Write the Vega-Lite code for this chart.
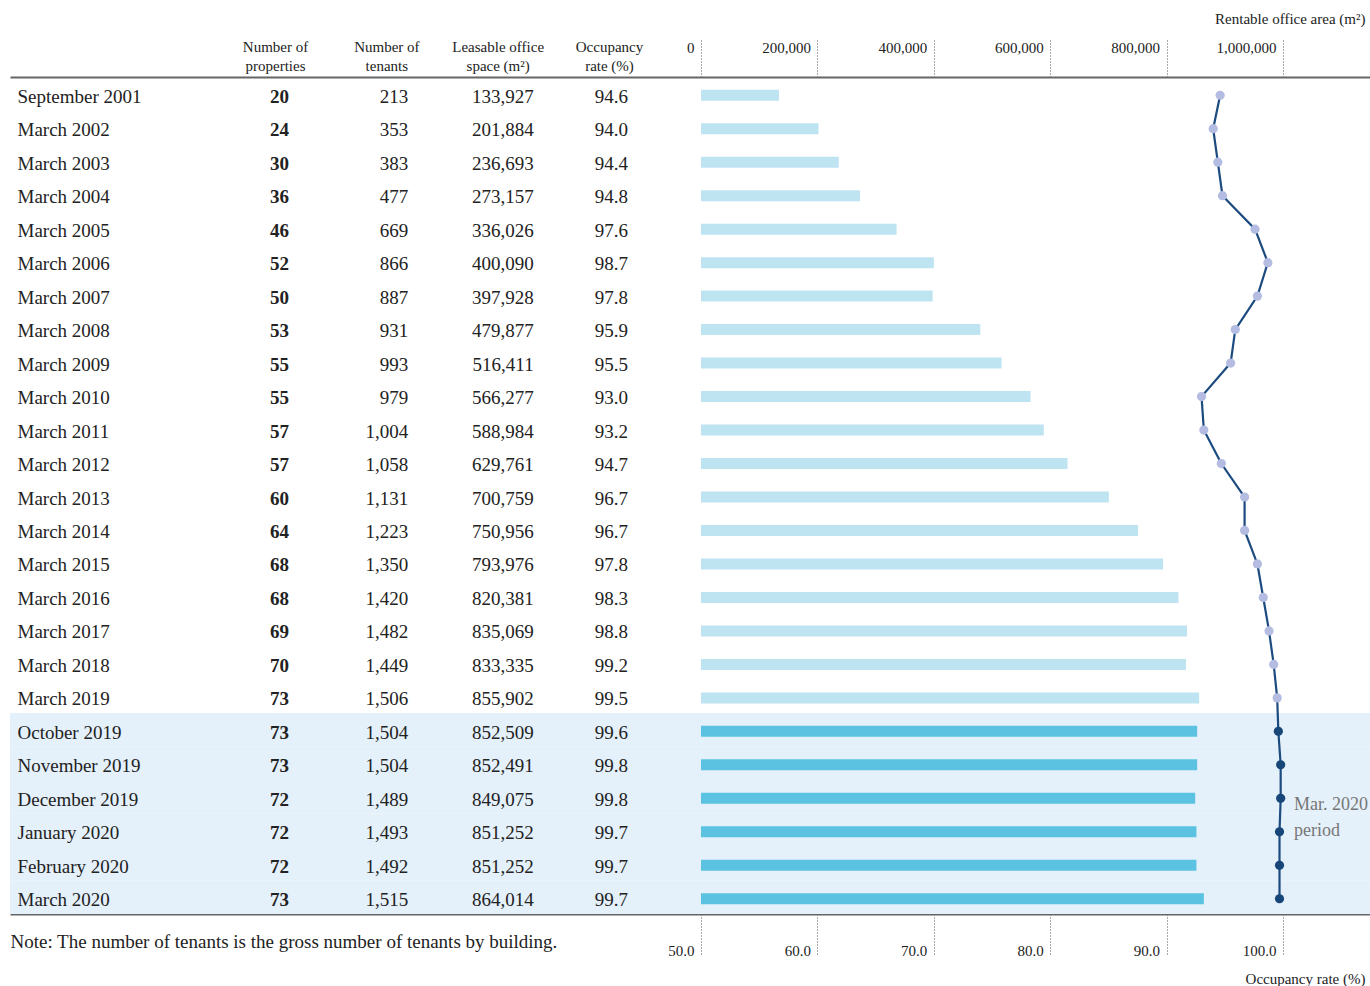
{
  "$schema": "https://vega.github.io/schema/vega-lite/v6.json",
  "autosize": "none",
  "width": 1360,
  "height": 837,
  "padding": {"left": 10, "top": 77, "right": 0, "bottom": 72},
  "background": "white",
  "config": {
    "view": {"stroke": null},
    "font": "Liberation Serif",
    "axis": {"labelFont": "Liberation Serif", "titleFont": "Liberation Serif", "labelColor": "#222", "titleColor": "#222", "grid": false, "titleFontWeight": "normal", "labelFlush": false, "labelOverlap": false, "labelAngle": 0},
    "axisY": {"domain": false, "ticks": false, "tickSize": 0, "labelAlign": "left", "labelPadding": -7, "labelFontSize": 19, "labelBaseline": "middle", "labelOffset": 3, "labelLimit": 400, "titleAngle": 0, "titleAlign": "left", "titleBaseline": "middle", "titleX": 0, "titleY": 864, "titleFontSize": 19, "titleLimit": 1000}
  },
  "data": {
    "values": [
      {"date": "September 2001", "props": 20, "tenants": 213, "space": 133927, "occ": 94.6, "period": "annual"},
      {"date": "March 2002", "props": 24, "tenants": 353, "space": 201884, "occ": 94.0, "period": "annual"},
      {"date": "March 2003", "props": 30, "tenants": 383, "space": 236693, "occ": 94.4, "period": "annual"},
      {"date": "March 2004", "props": 36, "tenants": 477, "space": 273157, "occ": 94.8, "period": "annual"},
      {"date": "March 2005", "props": 46, "tenants": 669, "space": 336026, "occ": 97.6, "period": "annual"},
      {"date": "March 2006", "props": 52, "tenants": 866, "space": 400090, "occ": 98.7, "period": "annual"},
      {"date": "March 2007", "props": 50, "tenants": 887, "space": 397928, "occ": 97.8, "period": "annual"},
      {"date": "March 2008", "props": 53, "tenants": 931, "space": 479877, "occ": 95.9, "period": "annual"},
      {"date": "March 2009", "props": 55, "tenants": 993, "space": 516411, "occ": 95.5, "period": "annual"},
      {"date": "March 2010", "props": 55, "tenants": 979, "space": 566277, "occ": 93.0, "period": "annual"},
      {"date": "March 2011", "props": 57, "tenants": 1004, "space": 588984, "occ": 93.2, "period": "annual"},
      {"date": "March 2012", "props": 57, "tenants": 1058, "space": 629761, "occ": 94.7, "period": "annual"},
      {"date": "March 2013", "props": 60, "tenants": 1131, "space": 700759, "occ": 96.7, "period": "annual"},
      {"date": "March 2014", "props": 64, "tenants": 1223, "space": 750956, "occ": 96.7, "period": "annual"},
      {"date": "March 2015", "props": 68, "tenants": 1350, "space": 793976, "occ": 97.8, "period": "annual"},
      {"date": "March 2016", "props": 68, "tenants": 1420, "space": 820381, "occ": 98.3, "period": "annual"},
      {"date": "March 2017", "props": 69, "tenants": 1482, "space": 835069, "occ": 98.8, "period": "annual"},
      {"date": "March 2018", "props": 70, "tenants": 1449, "space": 833335, "occ": 99.2, "period": "annual"},
      {"date": "March 2019", "props": 73, "tenants": 1506, "space": 855902, "occ": 99.5, "period": "annual"},
      {"date": "October 2019", "props": 73, "tenants": 1504, "space": 852509, "occ": 99.6, "period": "monthly"},
      {"date": "November 2019", "props": 73, "tenants": 1504, "space": 852491, "occ": 99.8, "period": "monthly"},
      {"date": "December 2019", "props": 72, "tenants": 1489, "space": 849075, "occ": 99.8, "period": "monthly"},
      {"date": "January 2020", "props": 72, "tenants": 1493, "space": 851252, "occ": 99.7, "period": "monthly"},
      {"date": "February 2020", "props": 72, "tenants": 1492, "space": 851252, "occ": 99.7, "period": "monthly"},
      {"date": "March 2020", "props": 73, "tenants": 1515, "space": 864014, "occ": 99.7, "period": "monthly"}
    ]
  },
  "resolve": {"scale": {"x": "independent", "color": "independent"}, "axis": {"x": "independent"}},
  "layer": [
    {
      "mark": {"type": "rect", "color": "#E4F0FA"},
      "encoding": {
        "y": {"field": "date", "type": "nominal", "sort": null, "title": "Note: The number of tenants is the gross number of tenants by building.", "scale": {"paddingInner": 0, "paddingOuter": 0}},
        "x": {"value": 0},
        "x2": {"value": "width"},
        "fillOpacity": {"condition": {"test": "datum.period === 'monthly'", "value": 1}, "value": 0}
      }
    },
    {
      "layer": [
        {
          "mark": {"type": "text", "align": "right", "baseline": "middle", "font": "Liberation Serif", "fontSize": 19, "fontWeight": "bold", "dx": 14, "dy": 3, "color": "#222"},
          "encoding": {
            "y": {"field": "date", "type": "nominal", "sort": null, "title": "Note: The number of tenants is the gross number of tenants by building."},
            "x": {"datum": "Number of|properties", "type": "nominal", "title": null,
              "scale": {"type": "point", "domain": ["Number of|properties", "Number of|tenants", "Leasable office|space (m²)", "Occupancy|rate (%)"], "range": [265, 599], "padding": 0},
              "axis": {"orient": "top", "domain": false, "ticks": false, "tickSize": 0, "labelPadding": 23, "labelExpr": "split(datum.label, '|')", "labelLineHeight": 19, "labelFontSize": 15, "labelBaseline": "bottom", "labelAlign": "center", "labelAngle": 0, "title": null}},
            "text": {"field": "props", "type": "quantitative", "format": "d"}
          }
        },
        {
          "mark": {"type": "text", "align": "right", "baseline": "middle", "font": "Liberation Serif", "fontSize": 19, "dx": 22, "dy": 3, "color": "#222"},
          "encoding": {
            "y": {"field": "date", "type": "nominal", "sort": null, "title": "Note: The number of tenants is the gross number of tenants by building."},
            "x": {"datum": "Number of|tenants", "type": "nominal", "title": null},
            "text": {"field": "tenants", "type": "quantitative", "format": ",d"}
          }
        },
        {
          "mark": {"type": "text", "align": "right", "baseline": "middle", "font": "Liberation Serif", "fontSize": 19, "dx": 36, "dy": 3, "color": "#222"},
          "encoding": {
            "y": {"field": "date", "type": "nominal", "sort": null, "title": "Note: The number of tenants is the gross number of tenants by building."},
            "x": {"datum": "Leasable office|space (m²)", "type": "nominal", "title": null},
            "text": {"field": "space", "type": "quantitative", "format": ",d"}
          }
        },
        {
          "mark": {"type": "text", "align": "right", "baseline": "middle", "font": "Liberation Serif", "fontSize": 19, "dx": 19, "dy": 3, "color": "#222"},
          "encoding": {
            "y": {"field": "date", "type": "nominal", "sort": null, "title": "Note: The number of tenants is the gross number of tenants by building."},
            "x": {"datum": "Occupancy|rate (%)", "type": "nominal", "title": null},
            "text": {"field": "occ", "type": "quantitative", "format": ".1f"}
          }
        }
      ]
    },
    {
      "mark": {"type": "bar", "size": 11, "yOffset": 1.5},
      "encoding": {
        "y": {"field": "date", "type": "nominal", "sort": null, "title": "Note: The number of tenants is the gross number of tenants by building."},
        "x": {"field": "space", "type": "quantitative", "stack": null,
          "scale": {"domain": [-1187285, 1149485], "nice": false, "zero": false},
          "axis": {"orient": "top", "values": [0, 200000, 400000, 600000, 800000, 1000000], "format": ",d", "domain": true, "domainColor": "#666", "domainWidth": 2, "ticks": true, "tickSize": 39, "tickDash": [1, 2], "tickColor": "#555", "tickWidth": 1, "labelAlign": "right", "labelBaseline": "middle", "labelPadding": -9, "labelOffset": -7, "labelFontSize": 15,
            "title": "Rentable office area (m²)", "titleX": 1355, "titleY": -59, "titleAlign": "right", "titleBaseline": "middle", "titleFontSize": 15}},
        "color": {"field": "period", "type": "nominal", "scale": {"domain": ["annual", "monthly"], "range": ["#BEE3F1", "#5BC3E1"]}, "legend": null}
      }
    },
    {
      "layer": [
        {
          "mark": {"type": "line", "color": "#1C4B80", "strokeWidth": 2.2, "yOffset": 1.5},
          "encoding": {
            "y": {"field": "date", "type": "nominal", "sort": null, "title": "Note: The number of tenants is the gross number of tenants by building."},
            "x": {"field": "occ", "type": "quantitative",
              "scale": {"domain": [-9.364, 107.474], "nice": false, "zero": false},
              "axis": {"orient": "bottom", "values": [50, 60, 70, 80, 90, 100], "format": ".1f", "domain": true, "domainColor": "#666", "domainWidth": 2, "ticks": true, "tickSize": 41, "tickDash": [1, 2], "tickColor": "#555", "tickWidth": 1, "labelAlign": "right", "labelBaseline": "middle", "labelPadding": -5, "labelOffset": -7, "labelFontSize": 15,
                "title": "Occupancy rate (%)", "titleX": 1355, "titleY": 64, "titleAlign": "right", "titleBaseline": "middle", "titleFontSize": 15}}
          }
        },
        {
          "mark": {"type": "point", "filled": true, "size": 85, "opacity": 1, "yOffset": 1.5},
          "encoding": {
            "y": {"field": "date", "type": "nominal", "sort": null, "title": "Note: The number of tenants is the gross number of tenants by building."},
            "x": {"field": "occ", "type": "quantitative"},
            "color": {"field": "period", "type": "nominal", "scale": {"domain": ["annual", "monthly"], "range": ["#B4BCE2", "#174679"]}, "legend": null}
          }
        },
        {
          "data": {"values": [{"note": "Mar. 2020\nperiod"}]},
          "mark": {"type": "text", "align": "left", "baseline": "middle", "font": "Liberation Serif", "fontSize": 18, "color": "#777", "lineBreak": "\n", "lineHeight": 26, "dy": -9},
          "encoding": {
            "y": {"datum": "January 2020", "type": "nominal", "bandPosition": 0, "title": "Note: The number of tenants is the gross number of tenants by building."},
            "x": {"datum": 100.95, "type": "quantitative"},
            "text": {"field": "note", "type": "nominal"}
          }
        }
      ]
    }
  ]
}
